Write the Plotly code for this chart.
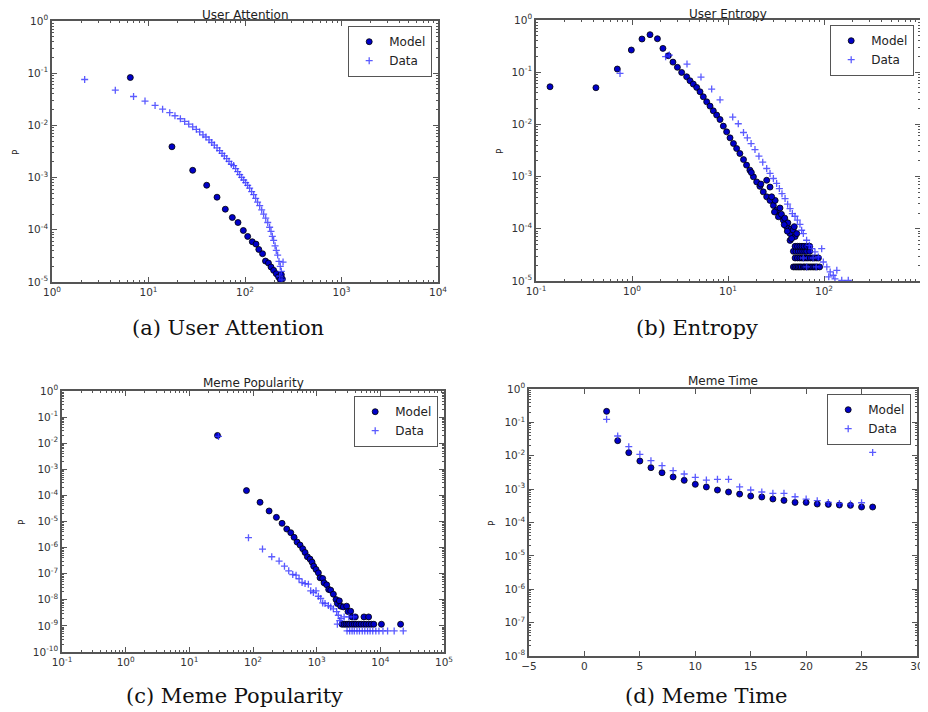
import plotly.graph_objects as go

# ---------------- (a) User Attention ----------------
ua_model_x = [6.48, 17.5, 28.7, 40.1, 51.3, 62.5, 73.9, 84.6, 96.1, 106.6, 119, 130, 139, 152,
              163, 175, 186, 198, 211, 223, 238, 244, 232]
ua_model_y = [0.0826, 0.0039, 0.00138, 0.000714, 0.000421, 0.000248, 0.000172, 0.000138, 0.000097,
              7.46e-5, 5.9e-5, 5.32e-5, 4.2e-5, 3.48e-5, 2.52e-5, 2.31e-5, 1.94e-5, 1.67e-5, 1.44e-5,
              1.25e-5, 1.38e-5, 1.14e-5, 1.11e-5]
ua_data_x = [2.18, 4.53, 7.0, 9.2, 11.7, 14.0, 16.6, 18.8, 21.4, 23.7, 26.1, 28.7, 31.3, 33.9, 36.7,
             39.4, 42.4, 45.2, 48.1, 51.3, 54.6, 57.8, 61.1, 64.6, 68.3, 72.2, 76.3, 80.0, 84.0, 88.1,
             92.3, 96.9, 101.6, 106.6, 111.7, 117.2, 123, 129, 135, 142, 149, 156, 164, 172, 180, 186,
             192, 198, 205, 211, 218, 225, 232, 238, 248, 229, 242]
ua_data_y = [0.0757, 0.0473, 0.0358, 0.0292, 0.0241, 0.0205, 0.0175, 0.0153, 0.0134, 0.0119, 0.0106,
             0.0094, 0.0084, 0.0075, 0.0066, 0.0060, 0.0053, 0.0047, 0.0042, 0.0037, 0.0033, 0.0029,
             0.0026, 0.0023, 0.00205, 0.0018, 0.0017, 0.00149, 0.0013, 0.00114, 0.00101, 0.0009,
             0.0008, 0.00071, 0.00063, 0.00054, 0.00047, 0.0004, 0.00034, 0.00029, 0.00024, 0.0002,
             0.000167, 0.000138, 0.000112, 9.3e-5, 7.5e-5, 6.25e-5, 4.94e-5, 4.03e-5, 3.28e-5,
             2.48e-5, 1.99e-5, 1.6e-5, 2.41e-5, 1.3e-5, 1.1e-5]

# ---------------- (b) User Entropy ----------------
ue_model_x = [0.140, 0.421, 0.703, 0.984, 1.27, 1.54, 1.84, 2.10, 2.39, 2.67, 2.97, 3.29, 3.71, 4.02,
              4.35, 4.72, 5.11, 5.53, 6.0, 6.5, 7.03, 7.62, 8.26, 8.94, 9.68, 10.5, 11.4, 12.3, 13.3,
              14.5, 15.6, 16.9, 18.4, 19.9, 21.5, 23.3, 25.3, 27.4, 29.7, 32.1, 34.8, 37.7, 40.8, 44.3,
              27.4, 31.0, 33.5, 34.8, 36.0, 39.0, 42.0, 45.6, 47.7, 50.0, 44.3, 52.0, 25.3, 28.5,
              17.5, 22.0, 30.5, 38.5, 41.5, 46.0, 49.0,
              48, 50, 52, 54, 56, 58, 61, 63, 66, 69, 72, 75, 78, 81, 85, 90,
              50, 53, 56, 59, 62, 65, 68, 72, 76, 80, 84, 87.5,
              48, 51, 54, 57, 60, 63, 66, 71,
              50, 53, 56, 59, 62, 66, 71]
ue_model_y = [0.0526, 0.0504, 0.115, 0.266, 0.432, 0.523, 0.438, 0.286, 0.207, 0.156, 0.124, 0.099,
              0.0818, 0.0686, 0.0592, 0.0511, 0.0422, 0.0338, 0.0271, 0.0224, 0.0182, 0.0151, 0.0124,
              0.00927, 0.00721, 0.00553, 0.0043, 0.00345, 0.00277, 0.00212, 0.00166, 0.00133,
              0.00099, 0.00079, 0.00065, 0.00051, 0.00041, 0.00035, 0.00028, 0.000227, 0.000182,
              0.000146, 0.000109, 8.1e-5,
              0.00063, 0.00035, 0.00017, 0.00025, 0.00019, 0.00016, 0.00013, 0.0001, 9.5e-5, 7.1e-5,
              6.0e-5, 8.1e-5, 0.00085, 0.00041,
              0.0012, 0.00072, 0.00021, 0.00012, 9.0e-5, 6.5e-5, 0.00011,
              1.86e-5, 1.86e-5, 1.86e-5, 1.86e-5, 1.86e-5, 1.86e-5, 1.86e-5, 1.86e-5, 1.86e-5, 1.86e-5,
              1.86e-5, 1.86e-5, 1.86e-5, 1.86e-5, 1.86e-5, 1.86e-5,
              2.76e-5, 2.76e-5, 2.76e-5, 2.76e-5, 2.76e-5, 2.76e-5, 2.76e-5, 2.76e-5, 2.76e-5, 2.76e-5,
              2.76e-5, 2.76e-5,
              3.7e-5, 3.7e-5, 3.7e-5, 3.7e-5, 3.7e-5, 3.7e-5, 3.7e-5, 3.7e-5,
              4.62e-5, 4.62e-5, 4.62e-5, 4.62e-5, 4.62e-5, 4.62e-5, 4.62e-5]
ue_data_x = [0.75, 2.24, 2.45, 3.74, 5.23, 6.76, 8.26, 11.2, 12.8, 14.5, 15.9, 17.4, 19.1, 21.0, 23.0,
             25.3, 27.4, 29.7, 32.1, 34.3, 36.5, 39.3, 41.8, 44.3, 46.8, 49.9, 52.8, 56.2, 58.5, 60.9,
             65.9, 70.3, 74.4, 80.5, 94.6, 87.3, 98.4, 107, 116, 125, 136, 153, 179,
             60.9, 77, 66, 83, 112, 130]
ue_data_y = [0.0948, 0.198, 0.213, 0.143, 0.0807, 0.0475, 0.0296, 0.0138, 0.0103, 0.0070, 0.00553,
             0.0043, 0.0033, 0.00246, 0.00189, 0.00143, 0.00115, 0.00092, 0.00074, 0.00059, 0.00047,
             0.00038, 0.000296, 0.000244, 0.000196, 0.000174, 0.000146, 0.000122, 9.38e-5, 8.09e-5,
             6.03e-5, 4.83e-5, 4.17e-5, 3.6e-5, 4.17e-5, 2.89e-5, 2.31e-5, 1.86e-5, 1.49e-5, 1.29e-5,
             1.6e-5, 1.03e-5, 1.03e-5,
             2.76e-5, 2.76e-5, 1.86e-5, 1.86e-5, 1.2e-5, 1.1e-5]

# ---------------- (c) Meme Popularity ----------------
mp_model_x = [27.7, 79, 129, 179, 233, 286, 339, 392, 442, 492, 548, 604, 657, 715, 787, 846, 898,
              977, 1064, 1130, 1244, 1306, 1437, 1545, 1661, 1829, 2014, 2113, 2270, 2383, 2624, 2958,
              3105, 3419, 3589, 4047, 5534, 6546,
              2500, 2700, 2900, 3100, 3300, 3600, 3900, 4200, 4600, 5000, 5500, 6000, 6600, 7200,
              7900, 10400, 20800]
mp_model_y = [0.0198, 1.53e-4, 5.45e-5, 2.53e-5, 1.44e-5, 8.5e-6, 5.15e-6, 3.73e-6, 2.47e-6, 1.63e-6,
              1.25e-6, 9.0e-7, 6.5e-7, 4.46e-7, 3.63e-7, 2.78e-7, 1.95e-7, 1.46e-7, 1.08e-7, 6.97e-8,
              6.57e-8, 4.47e-8, 3.75e-8, 2.48e-8, 2.34e-8, 1.64e-8, 1.02e-8, 7.2e-9, 9.1e-9, 5.7e-9,
              5.35e-9, 5.7e-9, 3.54e-9, 3.65e-9, 2.21e-9, 2.21e-9, 2.21e-9, 2.21e-9,
              1.16e-9, 1.16e-9, 1.16e-9, 1.16e-9, 1.16e-9, 1.16e-9, 1.16e-9, 1.16e-9, 1.16e-9,
              1.16e-9, 1.16e-9, 1.16e-9, 1.16e-9, 1.16e-9, 1.16e-9, 1.16e-9, 1.16e-9]
mp_data_x = [28.7, 84.9, 141, 197, 257, 312, 364, 421, 475, 529, 590, 657, 741, 806, 888, 977, 1064,
             1157, 1244, 1353, 1527, 1661, 1829, 2061, 2188, 2411, 2113, 2300, 2700, 3200, 3800,
             3000, 3300, 3600, 3900, 4300, 4700, 5200, 5700, 6300, 6900, 7600, 8500, 9500, 11000,
             13000, 16500, 22900]
mp_data_y = [0.0181, 2.39e-6, 8.8e-7, 4.46e-7, 3.04e-7, 1.95e-7, 1.29e-7, 9.3e-8, 8.8e-8, 6.4e-8,
             4.6e-8, 4.2e-8, 3.97e-8, 2.2e-8, 1.9e-8, 2.2e-8, 1.37e-8, 1.12e-8, 7.6e-9, 7.2e-9,
             6.0e-9, 5.35e-9, 4.5e-9, 3.54e-9, 2.56e-9, 1.9e-9, 1.16e-9, 1.6e-9, 2.2e-9, 2.2e-9,
             2.2e-9,
             6.4e-10, 6.4e-10, 6.4e-10, 6.4e-10, 6.4e-10, 6.4e-10, 6.4e-10, 6.4e-10, 6.4e-10,
             6.4e-10, 6.4e-10, 6.4e-10, 6.4e-10, 6.4e-10, 6.4e-10, 6.4e-10, 6.4e-10]

# ---------------- (d) Meme Time ----------------
mt_x = [2, 3, 4, 5, 6, 7, 8, 9, 10, 11, 12, 13, 14, 15, 16, 17, 18, 19, 20, 21, 22, 23, 24, 25, 26]
mt_model_y = [0.214, 0.0283, 0.0124, 0.00695, 0.00439, 0.0031, 0.00231, 0.00183, 0.00139, 0.00116,
              0.00094, 0.00082, 0.00071, 0.00062, 0.00058, 0.000505, 0.00046, 0.0004, 0.0004,
              0.000357, 0.000349, 0.000334, 0.000326, 0.000291, 0.000291]
mt_data_y = [0.123, 0.039, 0.0187, 0.011, 0.0071, 0.00504, 0.00357, 0.00284, 0.00225, 0.00187,
             0.00196, 0.00196, 0.00116, 0.00094, 0.00082, 0.00075, 0.00075, 0.00059, 0.000505,
             0.00045, 0.0004, 0.000374, 0.000357, 0.00039, 0.0126]

titles = ["User Attention", "User Entropy", "Meme Popularity", "Meme Time"]
captions = ["(a) User Attention", "(b) Entropy", "(c) Meme Popularity", "(d) Meme Time"]
series_names = ["Model", "Data"]

# ---------------- layout geometry (window pixels) ----------------
OFF = 8                      # default page body margin
W, H = 928 - OFF, 712 - OFF  # figure size so that it fits the window exactly
boxes = [  # left, right, top, bottom in window pixels
    (52, 438, 21, 282),
    (536, 920, 20, 281),
    (62, 444, 391, 652),
    (529, 917, 389, 656),
]
title_pos = [(245, 14.5), (728, 14), (253, 383), (723, 381)]
ylabel_pos = [(16, 152), (500, 151), (22, 522), (492, 523)]
caption_pos = [(228, 328), (697, 328), (234, 696), (706, 696)]

MODEL_COLOR = "#0000c8"
DATA_COLOR = "rgba(50,50,255,0.8)"
FRAME = "#555555"
TICKC = "#333333"


def fx(px):
    return (px - OFF) / W


def fy(py):
    return 1 - (py - OFF) / H


def dom(b):
    l, r, t, bt = b
    return [fx(l), fx(r)], [fy(bt), fy(t)]


def logticks(lo, hi):
    vals = [10.0 ** e for e in range(lo, hi + 1)]
    text = ["10<sup>%d</sup>" % e for e in range(lo, hi + 1)]
    return vals, text


fig = go.Figure()

panels = [
    (ua_model_x, ua_model_y, ua_data_x, ua_data_y),
    (ue_model_x, ue_model_y, ue_data_x, ue_data_y),
    (mp_model_x, mp_model_y, mp_data_x, mp_data_y),
    (mt_x, mt_model_y, mt_x, mt_data_y),
]
x_ranges = [(0, 4), (-1, 3), (-1, 5), (-5, 30)]
y_ranges = [(-5, 0), (-5, 0), (-10, 0), (-8, 0)]

for i, (mx, my, dx, dy) in enumerate(panels):
    n = i + 1
    xa = "x" if n == 1 else "x%d" % n
    ya = "y" if n == 1 else "y%d" % n
    lg = "legend" if n == 1 else "legend%d" % n
    fig.add_trace(go.Scatter(x=mx, y=my, mode="markers", name=series_names[0],
                             marker=dict(symbol="circle", size=6, color=MODEL_COLOR,
                                         line=dict(color="black", width=0.8)),
                             xaxis=xa, yaxis=ya, legend=lg))
    fig.add_trace(go.Scatter(x=dx, y=dy, mode="markers", name=series_names[1],
                             marker=dict(symbol="cross-thin", size=5,
                                         line=dict(color=DATA_COLOR, width=1.3)),
                             xaxis=xa, yaxis=ya, legend=lg))

layout = dict(width=W, height=H, margin=dict(l=0, r=0, t=0, b=0, autoexpand=False),
              paper_bgcolor="white", plot_bgcolor="white",
              font=dict(family="DejaVu Sans", color=TICKC, size=10))

annotations = []
for i in range(4):
    n = i + 1
    xd, yd = dom(boxes[i])
    xk = "xaxis" if n == 1 else "xaxis%d" % n
    yk = "yaxis" if n == 1 else "yaxis%d" % n
    common = dict(showline=True, linecolor=FRAME, linewidth=1.5, mirror="allticks",
                  ticks="inside", tickcolor=FRAME, ticklen=5, showgrid=False, zeroline=False,
                  automargin=False,
                  tickfont=dict(size=10.5, color=TICKC, family="DejaVu Sans"))
    xlo, xhi = x_ranges[i]
    ylo, yhi = y_ranges[i]
    if i < 3:
        tv, tt = logticks(xlo, xhi)
        layout[xk] = dict(domain=xd, type="log", range=[xlo, xhi], tickvals=tv, ticktext=tt,
                          anchor="y" if n == 1 else "y%d" % n,
                          minor=dict(ticks="inside", ticklen=2.5, tickcolor=FRAME, dtick="D1",
                                     showgrid=False),
                          **common)
    else:
        layout[xk] = dict(domain=xd, type="linear", range=[xlo, xhi], dtick=5,
                          anchor="y%d" % n, **common)
    tv, tt = logticks(ylo, yhi)
    layout[yk] = dict(domain=yd, type="log", range=[ylo, yhi], tickvals=tv, ticktext=tt,
                      anchor="x" if n == 1 else "x%d" % n,
                      minor=dict(ticks="inside", ticklen=2.5, tickcolor=FRAME, dtick="D1",
                                 showgrid=False),
                      **common)
    # legend
    lgk = "legend" if n == 1 else "legend%d" % n
    layout[lgk] = dict(x=xd[1] - 6 / W, y=yd[1] - 5 / H, xanchor="right", yanchor="top",
                       bgcolor="white", bordercolor=FRAME, borderwidth=1.2,
                       font=dict(size=12, family="DejaVu Sans", color="#222"),
                       itemsizing="trace", itemwidth=30, tracegroupgap=0)
    # title
    tx, ty = title_pos[i]
    annotations.append(dict(text=titles[i], x=fx(tx), y=fy(ty), xref="paper", yref="paper",
                            xanchor="center", yanchor="middle", showarrow=False,
                            font=dict(size=12, family="DejaVu Sans", color="#222")))
    # y label
    lx, ly = ylabel_pos[i]
    annotations.append(dict(text="P", x=fx(lx), y=fy(ly), xref="paper", yref="paper",
                            xanchor="center", yanchor="middle", textangle=-90,
                            showarrow=False, font=dict(size=9, family="DejaVu Sans", color="#222")))
    # caption
    cx, cy = caption_pos[i]
    annotations.append(dict(text=captions[i], x=fx(cx), y=fy(cy), xref="paper", yref="paper",
                            xanchor="center", yanchor="middle", showarrow=False,
                            font=dict(size=21, family="DejaVu Serif", color="#111")))

layout["annotations"] = annotations
layout["showlegend"] = True
fig.update_layout(**layout)
fig.write_html("out.html")
